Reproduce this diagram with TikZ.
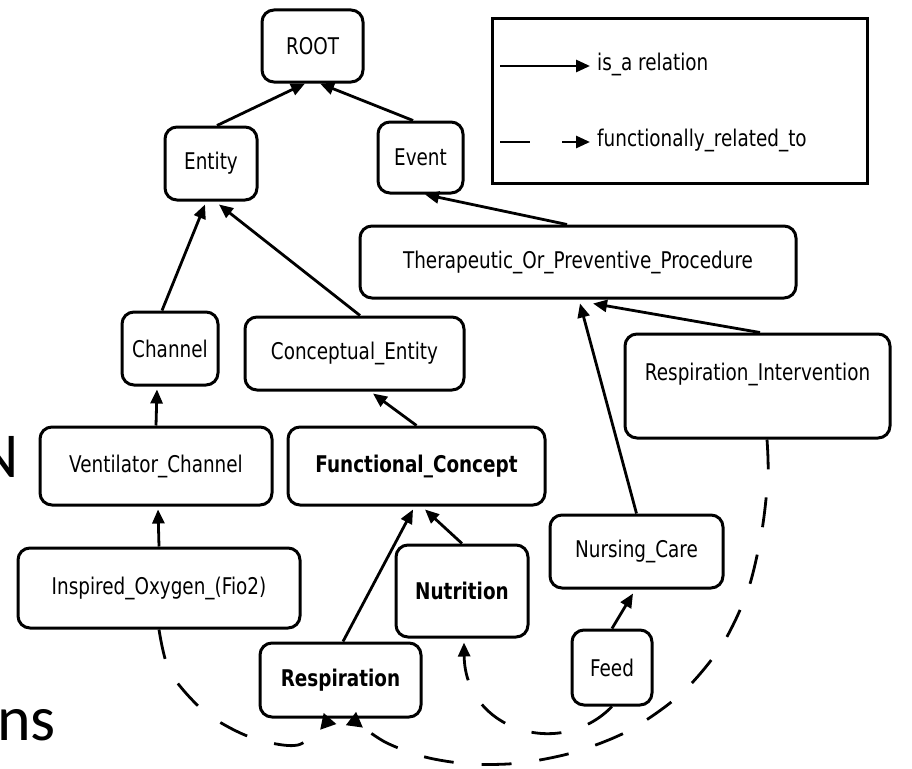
\documentclass[tikz,border=0pt]{standalone}
\usepackage{fontspec}
\newfontfamily\nodefont[FakeStretch=0.8]{DejaVu Sans}
\newfontfamily\slidefont{Carlito}
\usetikzlibrary{arrows.meta}

\begin{document}
\begin{tikzpicture}[x=1pt,y=-1pt,
  concept/.style={draw, line width=3pt, rounded corners=12pt, fill=white,
    inner sep=0pt, font=\nodefont\fontsize{23}{27}\selectfont},
  strong/.style={font=\nodefont\bfseries\fontsize{23}{27}\selectfont},
  legendtext/.style={inner sep=0pt, anchor=west, font=\nodefont\fontsize{23}{27}\selectfont},
  isa/.style={line width=2.8pt, -{Triangle[length=14pt,width=12pt]}},
  funrel/.style={line width=2.8pt, dash pattern=on 30pt off 28pt},
  slide/.style={inner sep=0pt, font=\slidefont\fontsize{64}{70}\selectfont},
]
\useasboundingbox (0,0) rectangle (912,768);

% ontology concepts
\node[concept, minimum width=101pt, minimum height=72pt] (root) at (312.5,46) {ROOT};
\node[concept, minimum width=92pt, minimum height=73pt] (entity) at (211,163.5) {Entity};
\node[concept, minimum width=85pt, minimum height=71pt] (event) at (420.5,157.5) {Event};
\node[concept, minimum width=436pt, minimum height=72pt] (ther) at (578,262) {Therapeutic\_Or\_Preventive\_Procedure};
\node[concept, minimum width=96pt, minimum height=73pt] (channel) at (170,348.5) {Channel};
\node[concept, minimum width=219pt, minimum height=73pt] (conc) at (354.5,353.5) {Conceptual\_Entity};
\node[concept, minimum width=265pt, minimum height=104pt, text height=16pt, text depth=28pt] (ri) at (757.5,386) {Respiration\_Intervention};
\node[concept, minimum width=232pt, minimum height=78pt] (vent) at (156,466) {Ventilator\_Channel};
\node[concept, strong, minimum width=257pt, minimum height=78pt] (func) at (416.5,466) {Functional\_Concept};
\node[concept, minimum width=173pt, minimum height=73pt] (nurs) at (636.5,551.5) {Nursing\_Care};
\node[concept, minimum width=282pt, minimum height=80pt] (insp) at (159,588) {Inspired\_Oxygen\_(Fio2)};
\node[concept, strong, minimum width=132pt, minimum height=92pt] (nutr) at (462,591) {Nutrition};
\node[concept, strong, minimum width=161pt, minimum height=74pt] (resp) at (340.5,680) {Respiration};
\node[concept, minimum width=80pt, minimum height=75pt] (feed) at (612,667.5) {Feed};

% is_a relations
\draw[isa] ([xshift=6pt]entity.north) -- ([xshift=-7.5pt]root.south);
\draw[isa] ([xshift=-7.5pt]event.north) -- ([xshift=7.5pt]root.south);
\draw[isa] ([xshift=-8pt]channel.north) -- ([xshift=-6pt,yshift=-3pt]entity.south);
\draw[isa] ([xshift=5.5pt]conc.north) -- ([xshift=8pt,yshift=-3pt]entity.south);
\draw[isa] ([xshift=-11pt]ther.north) -- ([xshift=4.5pt]event.south);
\draw[isa] (vent.north) -- ([xshift=-13pt,yshift=-3pt]channel.south);
\draw[isa] (func.north) -- ([xshift=18.5pt,yshift=-2pt]conc.south);
\draw[isa] (insp.north) -- ([xshift=2pt,yshift=-3pt]vent.south);
\draw[isa] ([xshift=2.5pt]resp.north) -- ([xshift=-3.5pt,yshift=-3pt]func.south);
\draw[isa] (nutr.north) -- ([xshift=8.5pt,yshift=-3pt]func.south);
\draw[isa] (nurs.north) -- ([xshift=2pt,yshift=-4pt]ther.south);
\draw[isa] ([xshift=2.5pt]ri.north) -- ([xshift=15pt,yshift=-4pt]ther.south);
\draw[isa] (feed.north) -- ([xshift=-3.5pt,yshift=-4pt]nurs.south);

% functionally_related_to relations
\draw[funrel, -{Triangle[reversed,length=15pt,width=16pt]}]
  plot[smooth] coordinates {(insp.south) (170,672) (205,712) (250,737) (298,745) ([xshift=-10.5pt]resp.south)};
\draw[funrel, -{Triangle[reversed,length=15pt,width=16pt]}]
  plot[smooth] coordinates {([xshift=9.5pt]ri.south) (768,475) (762,530) (748,590) (722,645) (682,693)
    (630,730) (575,752) (520,763) (470,764) (425,757) (385,742) ([xshift=10.5pt]resp.south)};
\draw[funrel, -{Triangle[length=14pt,width=12pt]}]
  (feed.south) .. controls (560,760) and (465,730) .. ([xshift=2pt,yshift=-4pt]nutr.south);

% legend
\node[draw, line width=3pt, minimum width=375pt, minimum height=164pt, inner sep=0pt] (legend) at (679.5,101) {};
\coordinate (isaA) at (500,66);
\coordinate (isaB) at (590,66);
\coordinate (frA) at (500,142);
\coordinate (frB) at (590,142);
\draw[isa] (isaA) -- (isaB);
\draw[line width=2.8pt, dash pattern=on 30pt off 32pt, -{Triangle[length=14pt,width=12pt]}] (frA) -- (frB);
\node[legendtext] (isatext) at (597,64) {is\_a relation};
\node[legendtext] (frtext) at (597,140) {functionally\_related\_to};

% slide text around the figure
\node[slide, anchor=base east] (slideN) at (19,477) {N};
\node[slide, anchor=base west] (slideNs) at (-3,740) {ns};
\end{tikzpicture}
\end{document}
